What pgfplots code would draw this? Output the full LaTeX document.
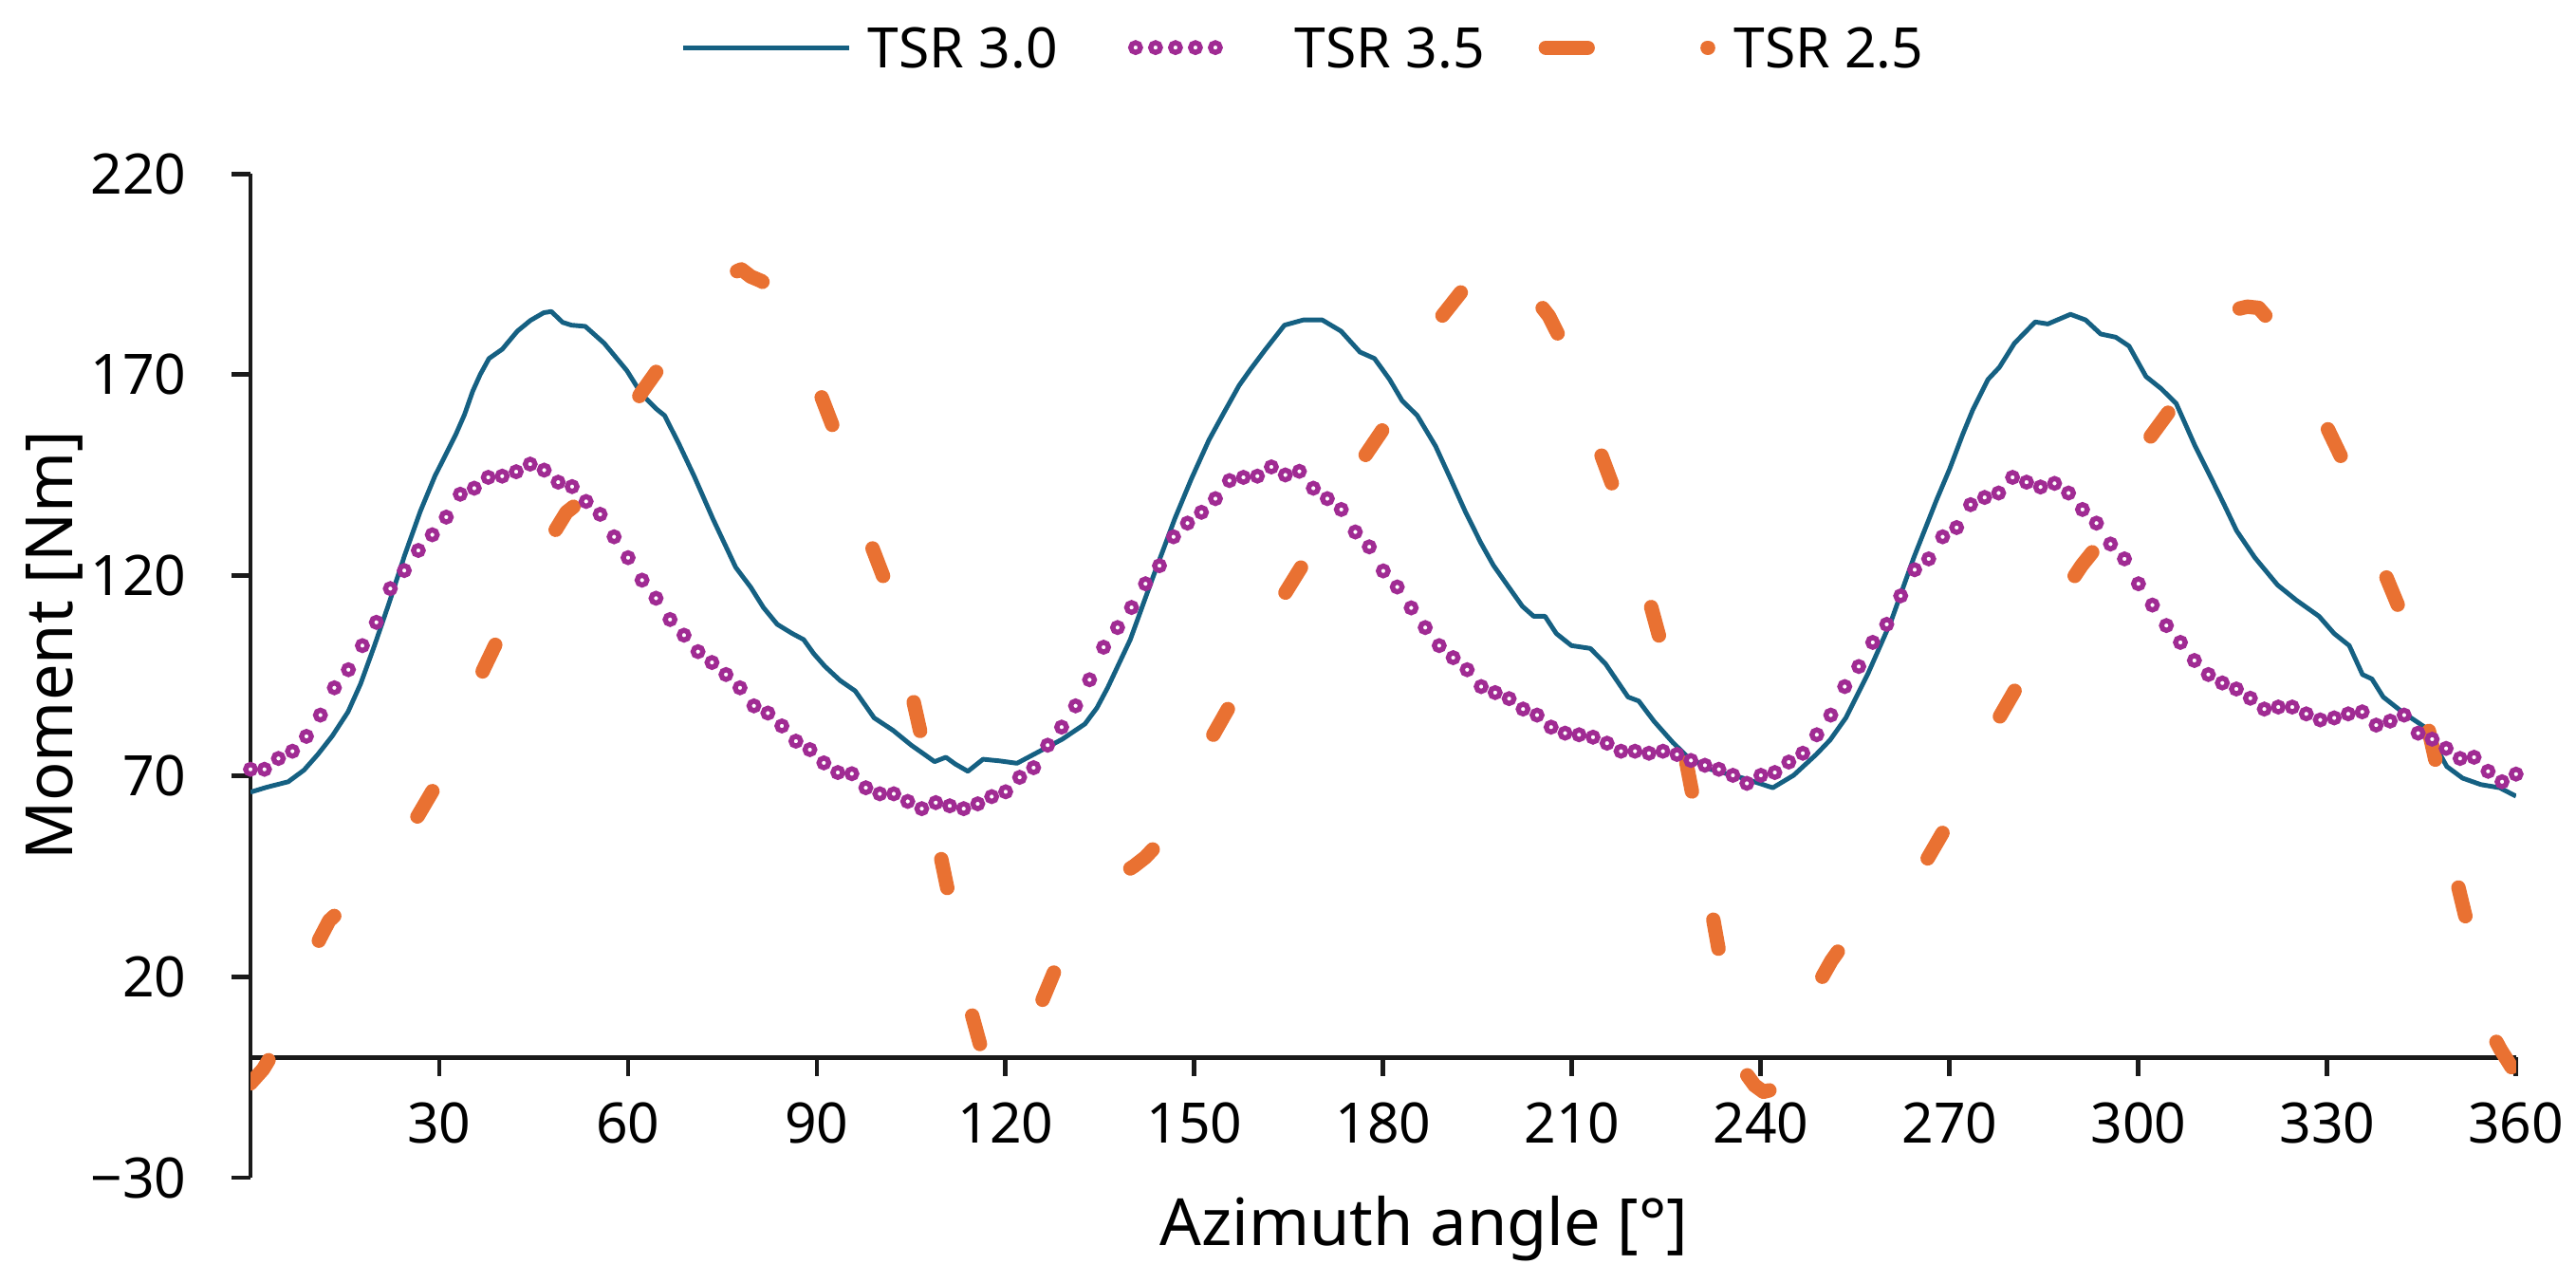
\documentclass[border=0pt]{standalone}
\usepackage{fontspec}
\setmainfont{Noto Sans}
\usepackage{pgfplots}
\usepackage{pgfplotstable}
\pgfplotsset{compat=1.18}
\definecolor{cblue}{HTML}{156082}
\definecolor{cpurple}{HTML}{A02B93}
\definecolor{corange}{HTML}{E97132}
\definecolor{axisgray}{HTML}{1A1A1A}

\pgfplotsset{
  legblue/.style={legend image code/.code={\draw[##1] (0pt,0pt) -- (35.7pt,0pt); \path (39.2pt,0pt);}},
  legpurple/.style={legend image code/.code={\draw[##1] plot coordinates {(0pt,0pt) (4.29pt,0pt) (8.58pt,0pt) (12.87pt,0pt) (17.16pt,0pt)}; \path (34.1pt,0pt);}},
  legorange/.style={legend image code/.code={\draw[##1, dash pattern=on 9pt off 25.8pt] (0pt,0pt) -- (34.9pt,0pt); \path (38.9pt,0pt);}},
}

\pgfplotstableread{
x y
0 66.0
2.5 67.2
6 68.6
8.5 71.5
10.7 75.4
13 80
15.5 86
17.5 93
19.7 102.5
22 113
24.5 125
27 136
29.3 144.7
31 150
32.6 155
34 160
35.3 165.8
36.5 170
37.9 174
40 176.3
42.4 180.8
44.5 183.5
46.6 185.4
47.8 185.7
49.6 183
51 182.3
53.2 182
56.2 177.8
59.8 171
62.2 165
64.6 161.3
65.8 159.8
68 153
70.5 144.7
73.5 134
77.1 122
79.5 117
81.5 112
83.7 107.8
86.1 105.5
87.9 104
89.5 100.5
91.3 97.3
93.7 93.8
96.1 91.2
99.1 84.5
102.1 81.4
105 77.7
107 75.5
108.7 73.6
110.5 74.7
112 73
114 71.2
116.4 74.2
119 73.8
121.8 73.2
125.4 76.2
129 79.2
132.6 83
134.5 87
136.2 92
139.8 104
143.3 119.1
146.9 134.2
149.5 144
152.3 153.7
154.5 160
157.1 167.3
159 171.5
161.3 176.3
164.3 182.3
167.3 183.6
170.3 183.6
173.3 180.8
176.3 175.6
178.6 174
181 168.8
183 163.5
185.4 159.8
188.3 152.2
190.7 144
193 136
195.5 128.1
197.5 122.5
199.7 117.6
202.1 112.3
203.9 109.8
205.7 109.8
207.5 105.5
209.9 102.5
212.9 101.8
215.3 98
218.9 89.7
220.6 88.7
223 83.7
226 78.4
228.4 74.7
232 71.7
237.4 69.4
241.9 67.1
245.2 70.2
248.8 75.4
251 79
253.5 84.5
257.1 95.8
260.7 108.6
264.3 124.4
267.9 138.7
270 146.5
272.1 155.2
273.7 161.3
276.1 168.8
277.9 171.8
280.3 177.8
283.6 183.1
285.6 182.6
289.2 185
291.6 183.6
294 180.1
296.4 179.3
298.5 177.1
301.2 169.5
303.6 166.5
306 162.8
309 152.2
311.4 144.7
313.5 138
315.6 131.1
318.5 124.4
322.1 117.6
325.1 113.8
328.7 109.8
331.1 105.5
333.5 102.5
335.6 95.3
337.1 94.2
338.9 89.7
341.9 86
345.5 82.2
349 72.4
351.5 69.5
354.4 67.9
357.4 67.1
360 65
}\tsrthree

\pgfplotstableread{
x y
0 71.7
2.22 71.7
4.44 74.4
6.67 76.2
8.89 79.9
11.11 85.2
13.33 92.0
15.56 96.5
17.78 102.5
20 108.3
22.22 116.7
24.44 121.2
26.67 126.2
28.89 130.1
31.11 134.5
33.33 140.2
35.56 141.7
37.78 144.4
40 144.7
42.22 145.8
44.44 147.7
46.67 146.2
48.89 143.2
51.11 142.1
53.33 138.4
55.56 135.2
57.78 129.6
60 124.4
62.22 118.8
64.44 114.3
66.67 109.0
68.89 105.1
71.11 101.0
73.33 98.3
75.56 95.3
77.78 92.0
80 87.5
82.22 85.7
84.44 82.5
86.67 78.7
88.89 76.6
91.11 73.3
93.33 70.9
95.56 70.6
97.78 67.1
100 65.6
102.22 65.6
104.44 63.7
106.67 61.9
108.89 63.4
111.11 62.6
113.33 61.9
115.56 63.1
117.78 64.9
120 66.1
122.22 69.7
124.44 72.1
126.67 77.7
128.89 82.2
131.11 87.5
133.33 94.0
135.56 102.1
137.78 107.0
140 112.0
142.22 117.9
144.44 122.4
146.67 129.6
148.89 133.0
151.11 135.7
153.33 139.1
155.56 143.6
157.78 144.4
160 144.7
162.22 147.0
164.44 145.0
166.67 145.9
168.89 141.7
171.11 139.1
173.33 136.4
175.56 130.8
177.78 127.1
180 121.1
182.22 117.1
184.44 111.9
186.67 107.0
188.89 102.5
191.11 99.5
193.33 96.5
195.56 92.3
197.78 90.8
200 89.3
202.22 86.7
204.44 85.2
206.67 82.2
208.89 80.7
211.11 80.3
213.33 79.7
215.56 78.2
217.78 76.2
220 76.2
222.22 75.7
224.44 76.2
226.67 75.4
228.89 73.9
231.11 72.7
233.33 71.7
235.56 70.2
237.78 68.2
240 70.2
242.22 70.9
244.44 73.5
246.67 75.7
248.89 80.3
251.11 85.2
253.33 92.3
255.56 97.3
257.78 103.3
260 107.8
262.22 114.9
264.44 121.4
266.67 124.1
268.89 129.6
271.11 131.9
273.33 137.6
275.56 139.4
277.78 140.5
280 144.4
282.22 143.2
284.44 142.0
286.67 142.9
288.89 140.5
291.11 136.4
293.33 133.0
295.56 127.8
297.78 124.1
300 117.9
302.22 112.6
304.44 107.5
306.67 103.3
308.89 98.8
311.11 95.3
313.33 93.2
315.56 91.7
317.78 89.4
320 86.7
322.22 87.2
324.44 87.2
326.67 85.5
328.89 84.0
331.11 84.5
333.33 85.5
335.56 86.0
337.78 82.7
340 83.7
342.22 85.2
344.44 80.7
346.67 79.2
348.89 76.9
351.11 74.4
353.33 74.7
355.56 71.2
357.78 68.6
360 70.5
}\tsrthreefive

\pgfplotstableread{
x y
0 -6.5
2 -3
4.5 3.5
7.5 17
11 29.5
12.5 34
14.3 36.6
15.5 38.1
21 49
26.6 60.1
30.2 69.7
33.5 83
37 96.5
40 106.3
44 119
48.4 131.1
50.2 135.7
53.2 139.4
57.5 152
61.9 165
65.8 173.6
71 185
76.5 195.2
78 196.2
79.5 194.4
81.3 193.2
82.2 191.4
86.5 178
90.4 165.8
92.8 156
95.8 141
98.5 128.1
100.9 118.3
103 104
105.2 89.7
106.6 79.9
108.2 65
109.6 50.6
111 40
112.8 25
114.5 11.4
116.4 0.5
118 -3.2
119.5 -5
120.8 -3.5
122.5 1.5
125.7 13.7
128.3 23.5
133.5 35
138.9 46.1
140.4 47.6
142.2 49.8
144 52.8
148 65
152.3 78.4
155.6 87.5
159.6 100.5
163.7 113.8
167.3 122.9
171.7 135
176.2 147.7
180.1 156.7
184.3 170
188.6 183.1
192.8 191.4
194.5 194.5
196.5 198
198.5 200.5
200.5 199.5
202.5 195
204.8 187.6
206.3 184.6
208.4 178.1
211.5 164.5
214.4 151
216.8 140.9
219.6 127
222.4 113.1
224.1 103.3
226 89
228 74.7
229.3 64.1
230.8 50
232.3 35.5
233.5 25
235.6 10
237.7 -4.2
239 -7
240.4 -8.6
243.1 -7.6
246.2 5.5
249.4 19
251.2 24
253 28
259.5 38
265.8 47.6
269.4 57.3
273.4 70
277.3 83
280.6 92
284.5 106
288.9 117.6
291 122.5
293.1 126.6
297.2 140
301.2 153
305.1 161.3
309.6 174
314.1 185.7
317.3 186.9
319.1 186.6
320.6 183.9
325 171
329.3 159
332.3 149.2
335.6 135
338.9 121.4
341.3 112.3
343.6 98
345.8 83.7
347.2 73.9
348.9 59
350.5 44.5
352 34.8
354 20
355.8 7
357.5 2
359.5 -3
}\tsrtwofive

\begin{document}
\begin{tikzpicture}
\path[use as bounding box] (-53.88pt,-22.45pt) rectangle (500.20pt,253.27pt);
\begin{axis}[
  at={(0pt,0pt)}, anchor=south west,
  width=487.3pt, height=215.9pt, scale only axis,
  xmin=0, xmax=360, ymin=-30, ymax=220,
  axis x line=middle, axis y line=left,
  axis line style={-, line width=1pt, color=axisgray},
  x axis line style={-}, y axis line style={-},
  xtick={30,60,90,120,150,180,210,240,270,300,330,360},
  xticklabels={30,60,90,120,150,180,210,240,270,300,330,360},
  ytick={-30,20,70,120,170,220},
  yticklabels={−30,20,70,120,170,220},
  tick align=outside, major tick length=4pt,
  tick style={line width=1pt, color=axisgray},
  ticklabel style={font=\fontsize{12}{14}\selectfont, text=black},
  xticklabel style={inner sep=0pt, anchor=north, yshift=-5.6pt},
  yticklabel style={inner sep=0pt, anchor=east, xshift=-9.6pt},
  every axis x label/.style={at={(axis description cs:0.518,-0.068)}, anchor=base, font=\fontsize{14}{16}\selectfont},
  every axis y label/.style={at={(axis description cs:-0.0787,0.530)}, rotate=90, anchor=base, font=\fontsize{14}{16}\selectfont},
  xlabel={Azimuth angle [°]},
  ylabel={Moment [Nm]},
  legend columns=3,
  legend style={at={(axis description cs:0.1897,1.1257)}, anchor=west,
    draw=none, fill=none, inner sep=0pt, font=\fontsize{12}{14}\selectfont,
    cells={anchor=west}, nodes={inner sep=0pt, text depth=0pt},
    /tikz/column 2/.style={column sep=15.7pt},
    /tikz/column 4/.style={column sep=11.6pt}},
]
\addplot[color=cblue, line width=1pt, line join=round, legblue]
  table[x=x,y=y] {\tsrthree};
\addlegendentry{TSR 3.0}
\addplot[only marks, mark=*, mark size=1.05pt,
  mark options={draw=cpurple, fill=white, line width=1.1pt}, legpurple]
  table[x=x,y=y] {\tsrthreefive};
\addlegendentry{TSR 3.5}
\addplot[color=corange, line width=3.1pt, line cap=round, line join=round,
  dash pattern=on 6.33pt off 27.96pt, legorange]
  table[x=x,y=y] {\tsrtwofive};
\addlegendentry{TSR 2.5}
\end{axis}
\end{tikzpicture}
\end{document}
